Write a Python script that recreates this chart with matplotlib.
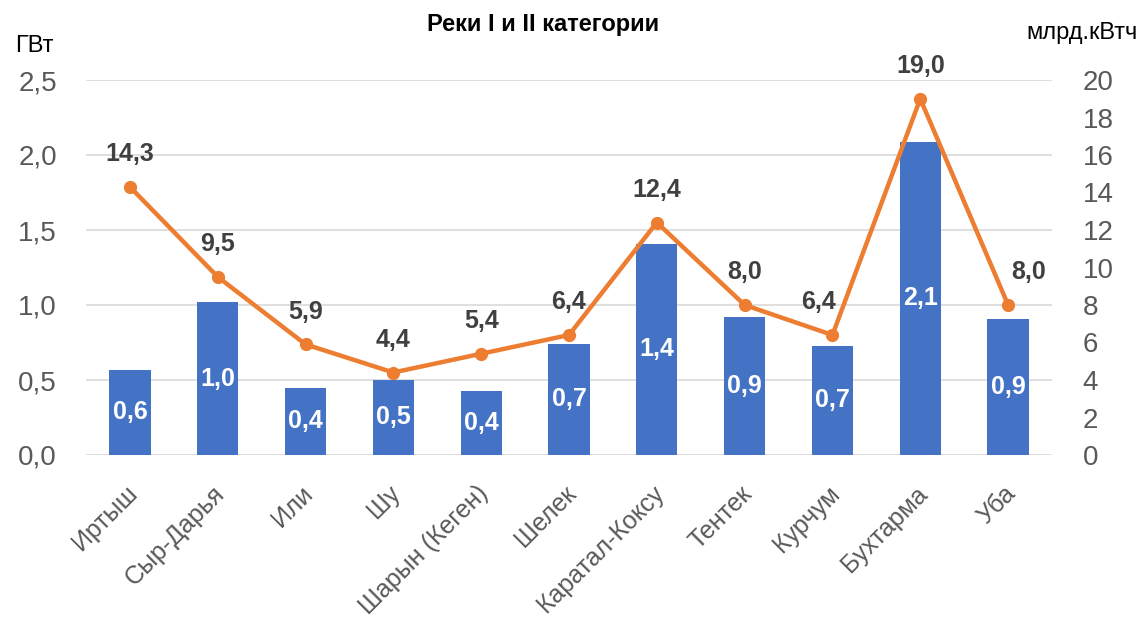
import matplotlib
matplotlib.use("Agg")
import matplotlib.pyplot as plt
from matplotlib import font_manager
import matplotlib.transforms as mtransforms

names = {f.name for f in font_manager.fontManager.ttflist}
base = "Liberation Sans Narrow" if "Liberation Sans Narrow" in names else "Liberation Sans"
plt.rcParams['font.family'] = [base, 'DejaVu Sans']

categories = ["Иртыш", "Сыр-Дарья", "Или", "Шу", "Шарын (Кеген)", "Шелек",
              "Каратал-Коксу", "Тентек", "Курчум", "Бухтарма", "Уба"]
power_gw = [0.57, 1.02, 0.45, 0.50, 0.43, 0.74, 1.41, 0.92, 0.73, 2.09, 0.91]
power_labels = ["0,6", "1,0", "0,4", "0,5", "0,4", "0,7", "1,4", "0,9", "0,7", "2,1", "0,9"]
energy_bkwh = [14.3, 9.5, 5.9, 4.4, 5.4, 6.4, 12.4, 8.0, 6.4, 19.0, 8.0]
left_ticks = [0.0, 0.5, 1.0, 1.5, 2.0, 2.5]
right_ticks = [0, 2, 4, 6, 8, 10, 12, 14, 16, 18, 20]

# horizontal nudges of the line labels (points), as placed in the original
label_dx = [0, 0, 0, 0, 0, 0, 0, 0, -10, 0, 15]

fig = plt.figure(figsize=(11.43, 6.22), dpi=100)
ax = fig.add_axes([86/1143, 1-455/622, (1052-86)/1143, 375/622])
ax2 = ax.twinx()

x = list(range(len(categories)))
ax.bar(x, power_gw, width=0.47, color="#4472C4", zorder=2)
ax.set_ylim(0, 2.5)
ax.set_xlim(-0.5, len(categories) - 0.5)
ax.set_yticks(left_ticks)
ax.set_yticklabels([f"{v:.1f}".replace(".", ",") for v in left_ticks])
ax.grid(axis='y', color="#D9D9D9", lw=1.2, zorder=0)
ax.set_axisbelow(True)
for s in ax.spines.values():
    s.set_visible(False)
for s in ax2.spines.values():
    s.set_visible(False)
ax.tick_params(axis='y', length=0, labelsize=20, colors="#595959", pad=21)
ax.tick_params(axis='x', length=0, pad=19)
ax.set_xticks(x)
ax.set_xticklabels(categories, rotation=45, ha='right', va='top', rotation_mode='anchor',
                   fontsize=18, color="#595959")
shift = mtransforms.ScaledTranslation(-5/100, 0, fig.dpi_scale_trans)
for lbl in ax.get_xticklabels():
    lbl.set_transform(lbl.get_transform() + shift)

for xi, v, t in zip(x, power_gw, power_labels):
    ax.text(xi, v / 2, t, ha='center', va='center', color='white',
            fontsize=18, fontweight='bold', zorder=3)

ax2.plot(x, energy_bkwh, color="#ED7D31", lw=3.2, marker='o', ms=8.5, zorder=4)
ax2.set_ylim(0, 20)
ax2.set_yticks(right_ticks)
ax2.set_yticklabels([str(v) for v in right_ticks])
ax2.tick_params(axis='y', length=0, labelsize=20, colors="#595959", pad=22)
for xi, v, dx in zip(x, energy_bkwh, label_dx):
    ax2.annotate(f"{v:.1f}".replace(".", ","), (xi, v), xytext=(dx, 15),
                 textcoords='offset points', ha='center', va='bottom',
                 fontsize=18, fontweight='bold', color="#404040", zorder=5)

fig.text(543/1143, 1-25/622, "Реки I и II категории", ha='center', va='center',
         fontsize=17, fontweight='bold', color='black')
fig.text(34/1143, 1-46/622, "ГВт", ha='center', va='center', fontsize=17, color='black')
fig.text(1082/1143, 1-33/622, "млрд.кВтч", ha='center', va='center', fontsize=17, color='black')

fig.savefig("out.png", dpi=100)
